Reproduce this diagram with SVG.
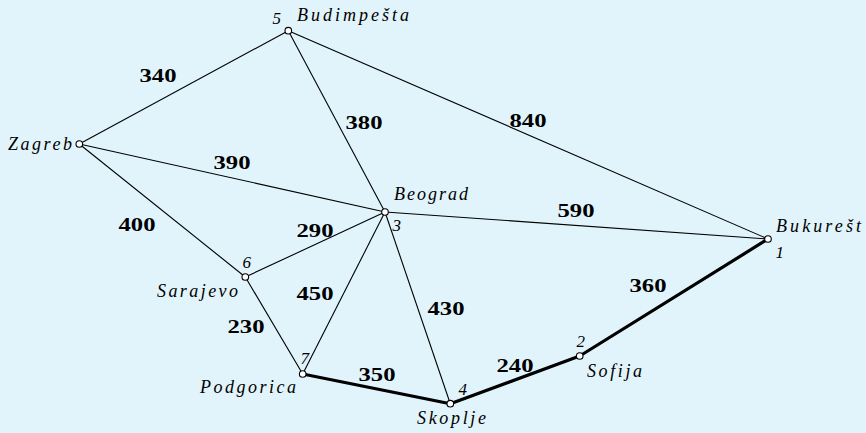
<svg xmlns="http://www.w3.org/2000/svg" width="866" height="433" viewBox="0 0 866 433" font-family="Liberation Serif, serif">
<style>
.e{stroke:#000;stroke-width:1.1;fill:none}
.t{stroke:#000;stroke-width:3.2;fill:none;stroke-linecap:round}
.n{fill:#fff;stroke:#000;stroke-width:1.1}
.lbl{font-style:italic;font-size:18px}
.num{font-style:italic;font-size:17px}
.w{font-weight:bold;font-size:19px;text-anchor:middle}
</style>
<rect width="866" height="433" fill="#e1f4fb"/>
<g id="connectors">
<line class="e" x1="79.3" y1="144" x2="288.3" y2="30.7"/>
<line class="e" x1="288.3" y1="30.7" x2="385" y2="212"/>
<line class="e" x1="288.3" y1="30.7" x2="768" y2="239"/>
<line class="e" x1="79.3" y1="144" x2="385" y2="212"/>
<line class="e" x1="79.3" y1="144" x2="245.3" y2="277"/>
<line class="e" x1="245.3" y1="277" x2="385" y2="212"/>
<line class="e" x1="245.3" y1="277" x2="302.7" y2="374"/>
<line class="e" x1="302.7" y1="374" x2="385" y2="212"/>
<line class="e" x1="385" y1="212" x2="450.3" y2="403.7"/>
<line class="e" x1="385" y1="212" x2="768" y2="239"/>
<line class="t" x1="302.7" y1="374" x2="450.3" y2="403.7"/>
<line class="t" x1="450.3" y1="403.7" x2="579.7" y2="356"/>
<line class="t" x1="579.7" y1="356" x2="768" y2="239"/>
<text class="w" x="158" y="82" textLength="37" lengthAdjust="spacingAndGlyphs">340</text>
<text class="w" x="364" y="129" textLength="37" lengthAdjust="spacingAndGlyphs">380</text>
<text class="w" x="232" y="169" textLength="37" lengthAdjust="spacingAndGlyphs">390</text>
<text class="w" x="528" y="127" textLength="37" lengthAdjust="spacingAndGlyphs">840</text>
<text class="w" x="576" y="217" textLength="37" lengthAdjust="spacingAndGlyphs">590</text>
<text class="w" x="137" y="231" textLength="37" lengthAdjust="spacingAndGlyphs">400</text>
<text class="w" x="315" y="237" textLength="37" lengthAdjust="spacingAndGlyphs">290</text>
<text class="w" x="315" y="300" textLength="37" lengthAdjust="spacingAndGlyphs">450</text>
<text class="w" x="246" y="333" textLength="37" lengthAdjust="spacingAndGlyphs">230</text>
<text class="w" x="377" y="381" textLength="37" lengthAdjust="spacingAndGlyphs">350</text>
<text class="w" x="446" y="315" textLength="37" lengthAdjust="spacingAndGlyphs">430</text>
<text class="w" x="515" y="372" textLength="37" lengthAdjust="spacingAndGlyphs">240</text>
<text class="w" x="648" y="292" textLength="37" lengthAdjust="spacingAndGlyphs">360</text>
</g>
<g id="budimpesta">
<circle class="n" cx="288.3" cy="30.7" r="3.3"/>
<text class="num" x="272.5" y="24">5</text>
<text class="lbl" x="297" y="21" textLength="112" lengthAdjust="spacing">Budimpešta</text>
</g>
<g id="zagreb">
<circle class="n" cx="79.3" cy="144" r="3.3"/>
<text class="lbl" x="8" y="150" textLength="64" lengthAdjust="spacing">Zagreb</text>
</g>
<g id="beograd">
<circle class="n" cx="385" cy="212" r="3.3"/>
<text class="lbl" x="394" y="200" textLength="74" lengthAdjust="spacing">Beograd</text>
<text class="num" x="392.5" y="231">3</text>
</g>
<g id="sarajevo">
<circle class="n" cx="245.3" cy="277" r="3.3"/>
<text class="num" x="242.5" y="268">6</text>
<text class="lbl" x="157" y="297" textLength="81" lengthAdjust="spacing">Sarajevo</text>
</g>
<g id="podgorica">
<circle class="n" cx="302.7" cy="374" r="3.3"/>
<text class="num" x="300.5" y="364">7</text>
<text class="lbl" x="200" y="393" textLength="96" lengthAdjust="spacing">Podgorica</text>
</g>
<g id="skopje">
<circle class="n" cx="450.3" cy="403.7" r="3.3"/>
<text class="num" x="458.5" y="395">4</text>
<text class="lbl" x="417" y="424" textLength="69" lengthAdjust="spacing">Skoplje</text>
</g>
<g id="sofija">
<circle class="n" cx="579.7" cy="356" r="3.3"/>
<text class="num" x="576.5" y="347">2</text>
<text class="lbl" x="587" y="377" textLength="55" lengthAdjust="spacing">Sofija</text>
</g>
<g id="bukurest">
<circle class="n" cx="768" cy="239" r="3.3"/>
<text class="lbl" x="776" y="232" textLength="85" lengthAdjust="spacing">Bukurešt</text>
<text class="num" x="775.5" y="258">1</text>
</g>
</svg>
